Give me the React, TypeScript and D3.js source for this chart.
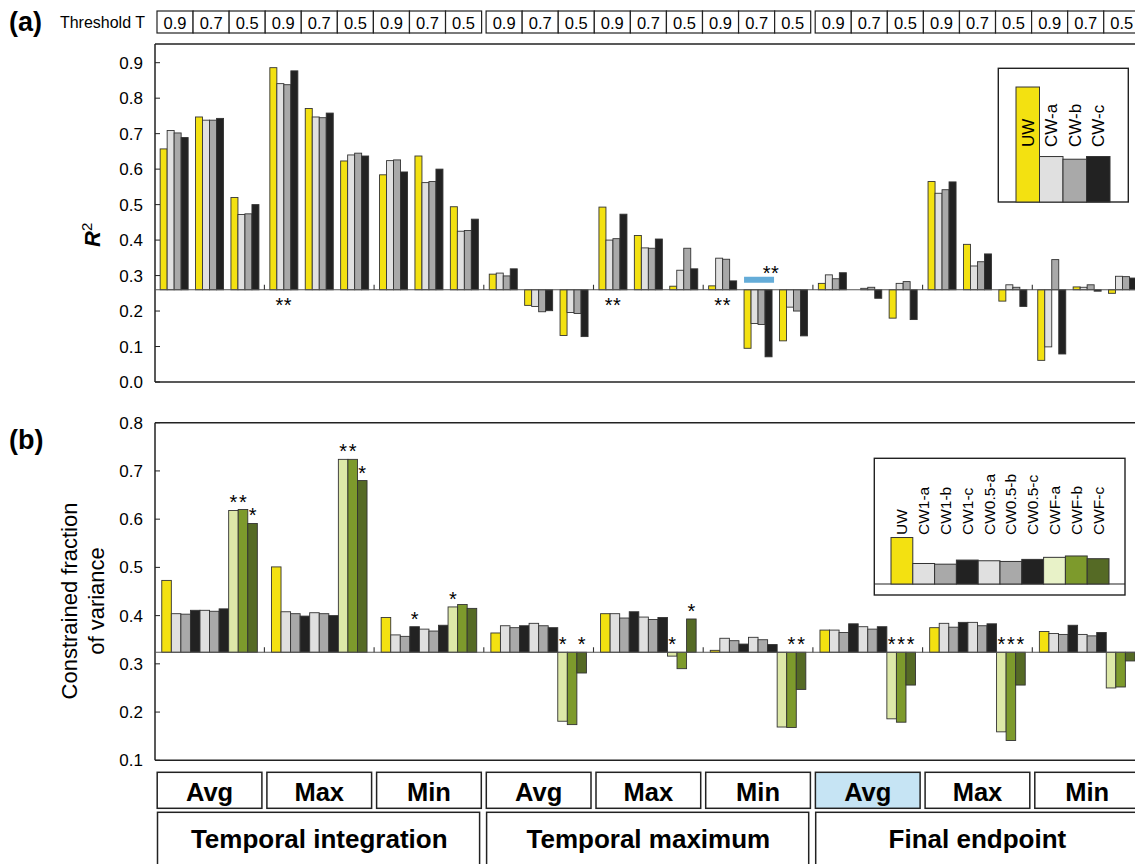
import React from 'react';
import * as d3 from 'd3';

const W = 1135;
const H = 864;
const FONT = 'Liberation Sans, Arial, Helvetica, sans-serif';

// ---------- data ----------
const statLabels = ['Avg', 'Max', 'Min', 'Avg', 'Max', 'Min', 'Avg', 'Max', 'Min'];
const metricLabels = ['Temporal integration', 'Temporal maximum', 'Final endpoint'];
const thresholds = ['0.9', '0.7', '0.5'];

// panel (a): 27 groups (9 categories x 3 thresholds)
const seriesA = ['UW', 'CW-a', 'CW-b', 'CW-c'];
const colorsA = ['#f3e111', '#e0e0e0', '#a9a9a9', '#222222'];
const aUW = [0.657, 0.747, 0.520, 0.886, 0.771, 0.623, 0.584, 0.637, 0.494, 0.304, 0.216, 0.131, 0.493, 0.413, 0.270, 0.271, 0.095, 0.116, 0.278, 0.260, 0.180, 0.565, 0.388, 0.228, 0.061, 0.268, 0.250];
const aCWa = [0.709, 0.738, 0.472, 0.841, 0.747, 0.640, 0.624, 0.562, 0.425, 0.307, 0.213, 0.196, 0.400, 0.378, 0.315, 0.349, 0.165, 0.211, 0.302, 0.264, 0.278, 0.532, 0.327, 0.274, 0.099, 0.267, 0.298];
const aCWb = [0.702, 0.738, 0.474, 0.838, 0.745, 0.645, 0.626, 0.565, 0.427, 0.299, 0.198, 0.193, 0.404, 0.377, 0.377, 0.346, 0.162, 0.200, 0.291, 0.267, 0.283, 0.542, 0.339, 0.267, 0.345, 0.274, 0.297];
const aCWc = [0.689, 0.743, 0.500, 0.877, 0.758, 0.637, 0.592, 0.600, 0.459, 0.319, 0.201, 0.128, 0.473, 0.403, 0.319, 0.285, 0.071, 0.130, 0.308, 0.236, 0.176, 0.564, 0.361, 0.213, 0.079, 0.256, 0.293];
const baseA = 0.26;
const ticksA = [0, 0.1, 0.2, 0.3, 0.4, 0.5, 0.6, 0.7, 0.8, 0.9];
// significance marks in (a): [category, threshold index, label, placement]
const marksA: [number, number, string, string][] = [
  [1, 0, '**', 'below'],
  [4, 0, '**', 'below'],
  [5, 0, '**', 'below'],
  [5, 1, '**', 'band'],
];
const legendAHeights = [0.86, 0.34, 0.32, 0.34];

// panel (b): 9 categories x 10 series
const seriesB = ['UW', 'CW1-a', 'CW1-b', 'CW1-c', 'CW0.5-a', 'CW0.5-b', 'CW0.5-c', 'CWF-a', 'CWF-b', 'CWF-c'];
const colorsB = ['#f3e111', '#e0e0e0', '#a9a9a9', '#222222', '#e0e0e0', '#a9a9a9', '#222222', '#dde8a8', '#7d9a2c', '#556a25'];
const bUW = [0.473, 0.501, 0.396, 0.364, 0.404, 0.328, 0.370, 0.375, 0.367];
const bCW1a = [0.404, 0.408, 0.360, 0.379, 0.404, 0.353, 0.370, 0.384, 0.363];
const bCW1b = [0.403, 0.404, 0.357, 0.375, 0.395, 0.348, 0.365, 0.376, 0.361];
const bCW1c = [0.411, 0.399, 0.377, 0.379, 0.408, 0.341, 0.383, 0.386, 0.380];
const bCW05a = [0.411, 0.406, 0.372, 0.384, 0.397, 0.355, 0.377, 0.386, 0.361];
const bCW05b = [0.409, 0.404, 0.368, 0.379, 0.392, 0.350, 0.372, 0.379, 0.358];
const bCW05c = [0.414, 0.400, 0.380, 0.375, 0.396, 0.340, 0.377, 0.383, 0.365];
const bCWFa = [0.618, 0.724, 0.418, 0.181, 0.316, 0.169, 0.186, 0.159, 0.250];
const bCWFb = [0.620, 0.724, 0.423, 0.174, 0.290, 0.168, 0.179, 0.141, 0.252];
const bCWFc = [0.591, 0.680, 0.415, 0.281, 0.393, 0.247, 0.256, 0.256, 0.306];
const baseB = 0.324;
const ticksB = [0.1, 0.2, 0.3, 0.4, 0.5, 0.6, 0.7, 0.8];
// significance stars in (b): [category, series index]
const starsB: [number, number][] = [
  [0, 7], [0, 8], [0, 9],
  [1, 7], [1, 8], [1, 9],
  [2, 3], [2, 7],
  [3, 7], [3, 9],
  [4, 7], [4, 9],
  [5, 8], [5, 9],
  [6, 7], [6, 8], [6, 9],
  [7, 7], [7, 8], [7, 9],
];
const legendBHeights = [0.34, 0.15, 0.145, 0.175, 0.17, 0.165, 0.18, 0.195, 0.205, 0.185];

const dataA = [aUW, aCWa, aCWb, aCWc];
const dataB = [bUW, bCW1a, bCW1b, bCW1c, bCW05a, bCW05b, bCW05c, bCWFa, bCWFb, bCWFc];

// ---------- layout ----------
const xCat = d3.scaleBand<number>().domain(d3.range(9)).range([154.7, 1142]).padding(0);
const cw = xCat.bandwidth();
const xSub = d3.scaleBand<number>().domain([0, 1, 2]).range([0, cw]).paddingInner(0.209).paddingOuter(0.154);
const xBarA = d3.scaleBand<number>().domain([0, 1, 2, 3]).range([0, xSub.bandwidth()]);
const xBarB = d3.scaleBand<number>().domain(d3.range(10)).range([0, cw]).paddingOuter(0.74);

const yA = d3.scaleLinear().domain([0, 0.9]).range([382, 62.7]);
const yB = d3.scaleLinear().domain([0.1, 0.8]).range([760.3, 422.7]);

const axisX = 155;
const topA = 44;
const STROKE = '#333';

function Bar({ x, w, y0, y1, fill }: { x: number; w: number; y0: number; y1: number; fill: string }) {
  const y = Math.min(y0, y1);
  const h = Math.abs(y1 - y0);
  if (h < 0.3) return null;
  return <rect x={x} y={y} width={w} height={h} fill={fill} stroke={STROKE} strokeWidth={0.9} />;
}

export default function App() {
  const b0A = yA(baseA);
  const b0B = yB(baseB);

  return (
    <svg width={W} height={H} style={{ position: 'absolute', left: 0, top: 0, background: '#fff' }} fontFamily={FONT}>
      <rect x={0} y={0} width={W} height={H} fill="#fff" />

      {/* ===== Panel (a) ===== */}
      <text x={9} y={31} fontSize={27} fontWeight="bold">(a)</text>
      <text x={145} y={28} fontSize={16} textAnchor="end">Threshold T</text>
      {d3.range(3).map((blk) => {
        const x0 = xCat(blk * 3)! + 2.3;
        const bw = (cw * 3 - 4.5) / 9;
        return d3.range(9).map((k) => (
          <g key={`th${blk}-${k}`}>
            <rect x={x0 + k * bw} y={11} width={bw} height={22} fill="#fff" stroke="#222" strokeWidth={1.2} />
            <text x={x0 + k * bw + bw / 2} y={28.5} fontSize={16.5} textAnchor="middle">{thresholds[k % 3]}</text>
          </g>
        ));
      })}

      {/* frame a */}
      <line x1={axisX} x2={W} y1={topA} y2={topA} stroke="#222" strokeWidth={1.5} />
      <line x1={axisX} x2={axisX} y1={topA} y2={yA(0)} stroke="#222" strokeWidth={1.5} />
      <line x1={axisX} x2={W} y1={yA(0)} y2={yA(0)} stroke="#222" strokeWidth={1.5} />
      {ticksA.map((t) => (
        <g key={`ta${t}`}>
          <line x1={axisX} x2={axisX + 5} y1={yA(t)} y2={yA(t)} stroke="#222" strokeWidth={1} />
          <text x={143} y={yA(t) + 6} fontSize={17} textAnchor="end">{t.toFixed(1)}</text>
        </g>
      ))}
      <text transform={`translate(100,247) rotate(-90)`} fontSize={22} fontWeight="bold" fontStyle="italic">
        R<tspan dy={-8} fontSize={15} fontStyle="normal" fontWeight="normal">2</tspan>
      </text>

      {/* bars a */}
      {d3.range(27).map((g) => {
        const c = Math.floor(g / 3);
        const s = g % 3;
        const gx = xCat(c)! + xSub(s)!;
        return dataA.map((arr, si) => (
          <Bar key={`a${g}-${si}`} x={gx + xBarA(si)!} w={xBarA.bandwidth()} y0={b0A} y1={yA(arr[g])} fill={colorsA[si]} />
        ));
      })}
      <line x1={axisX} x2={W} y1={b0A} y2={b0A} stroke="#555" strokeWidth={1.2} />
      {d3.range(1, 9).map((c) => (
        <line key={`tka${c}`} x1={xCat(c)!} x2={xCat(c)!} y1={b0A} y2={b0A - 5} stroke="#333" strokeWidth={1.1} />
      ))}
      {marksA.map(([c, s, lab, pos], i) => {
        const gx = xCat(c)! + xSub(s)!;
        const cx = gx + xSub.bandwidth() / 2;
        if (pos === 'below') {
          return <text key={`ma${i}`} x={cx} y={b0A + 22} fontSize={20} textAnchor="middle" letterSpacing={0.5}>{lab}</text>;
        }
        return (
          <g key={`ma${i}`}>
            <rect x={gx} y={b0A - 13} width={xSub.bandwidth() + 2} height={6} fill="#64acd8" />
            <text x={cx + 13} y={b0A - 10} fontSize={20} textAnchor="middle" letterSpacing={0.5}>{lab}</text>
          </g>
        );
      })}

      {/* legend a */}
      <rect x={998.3} y={68.3} width={130} height={133.7} fill="#fff" stroke="#222" strokeWidth={1.4} />
      {seriesA.map((name, i) => {
        const lx = 1016 + i * 23.5;
        const hh = legendAHeights[i] * 133.7;
        return (
          <g key={`la${i}`}>
            <rect x={lx} y={202 - hh} width={23.5} height={hh} fill={colorsA[i]} stroke={STROKE} strokeWidth={1} />
            <text transform={`translate(${lx + 11.75 + 6},147) rotate(-90)`} fontSize={17}>{name}</text>
          </g>
        );
      })}

      {/* ===== Panel (b) ===== */}
      <text x={9} y={449} fontSize={27} fontWeight="bold">(b)</text>
      <line x1={axisX} x2={W} y1={yB(0.8)} y2={yB(0.8)} stroke="#222" strokeWidth={1.5} />
      <line x1={axisX} x2={axisX} y1={yB(0.8)} y2={yB(0.1)} stroke="#222" strokeWidth={1.5} />
      <line x1={axisX} x2={W} y1={yB(0.1)} y2={yB(0.1)} stroke="#222" strokeWidth={1.5} />
      {ticksB.map((t) => (
        <g key={`tb${t}`}>
          <line x1={axisX} x2={axisX + 5} y1={yB(t)} y2={yB(t)} stroke="#222" strokeWidth={1} />
          <text x={143} y={yB(t) + 6} fontSize={17} textAnchor="end">{t.toFixed(1)}</text>
        </g>
      ))}
      <text transform={`translate(77,601) rotate(-90)`} fontSize={22} textAnchor="middle">Constrained fraction</text>
      <text transform={`translate(104,601) rotate(-90)`} fontSize={22} textAnchor="middle">of variance</text>

      {d3.range(9).map((c) =>
        dataB.map((arr, si) => (
          <Bar key={`b${c}-${si}`} x={xCat(c)! + xBarB(si)!} w={xBarB.bandwidth()} y0={b0B} y1={yB(arr[c])} fill={colorsB[si]} />
        ))
      )}
      <line x1={axisX} x2={W} y1={b0B} y2={b0B} stroke="#555" strokeWidth={1.2} />
      {d3.range(1, 9).map((c) => (
        <line key={`tkb${c}`} x1={xCat(c)!} x2={xCat(c)!} y1={b0B} y2={b0B - 5} stroke="#333" strokeWidth={1.1} />
      ))}
      {starsB.map(([c, si], i) => {
        const v = dataB[si][c];
        const top = Math.min(yB(v), b0B);
        return (
          <text key={`sb${i}`} x={xCat(c)! + xBarB(si)! + xBarB.bandwidth() / 2} y={top - 1} fontSize={20} textAnchor="middle">*</text>
        );
      })}

      {/* legend b */}
      <rect x={874.3} y={458.3} width={250.7} height={136.7} fill="#fff" stroke="#222" strokeWidth={1.4} />
      <line x1={874.3} x2={1125} y1={584} y2={584} stroke="#222" strokeWidth={1.2} />
      {seriesB.map((name, i) => {
        const bw = 21.8;
        const lx = 891 + i * bw;
        const hh = legendBHeights[i] * 136.7;
        return (
          <g key={`lb${i}`}>
            <rect x={lx} y={584 - hh} width={bw} height={hh} fill={i === 7 ? '#e8f2c8' : colorsB[i]} stroke={STROKE} strokeWidth={1} />
            <text transform={`translate(${lx + bw / 2 + 5.5},535) rotate(-90)`} fontSize={15.5}>{name}</text>
          </g>
        );
      })}

      {/* ===== category boxes ===== */}
      {statLabels.map((lab, i) => (
        <g key={`st${i}`}>
          <rect x={xCat(i)! + 2.5} y={772.3} width={cw - 5} height={36} fill={i === 6 ? '#c6e4f4' : '#fff'} stroke="#222" strokeWidth={1.5} />
          <text x={xCat(i)! + cw / 2} y={801} fontSize={25.5} fontWeight="bold" textAnchor="middle">{lab}</text>
        </g>
      ))}
      {metricLabels.map((lab, m) => (
        <g key={`mt${m}`}>
          <rect x={xCat(m * 3)! + 2.8} y={812.3} width={cw * 3 - 7} height={60} fill="#fff" stroke="#222" strokeWidth={1.5} />
          <text x={xCat(m * 3)! + cw * 1.5} y={848} fontSize={26} fontWeight="bold" textAnchor="middle">{lab}</text>
        </g>
      ))}
    </svg>
  );
}
